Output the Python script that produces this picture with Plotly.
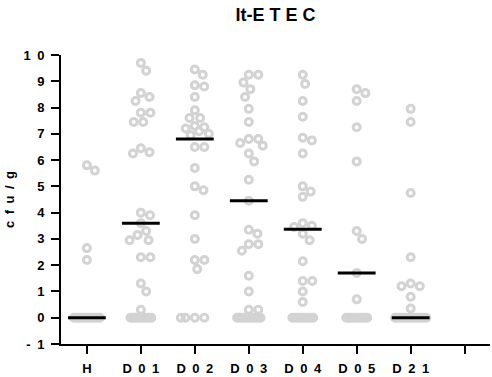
import math
import plotly.graph_objects as go

# ---------------- data ----------------
groups = ["H", "D01", "D02", "D03", "D04", "D05", "D21"]
tick_labels = ["H", "D\u20020\u20021", "D\u20020\u20022", "D\u20020\u20023",
               "D\u20020\u20024", "D\u20020\u20025", "D\u20022\u20021", ""]

H = [5.8, 5.6, 2.65, 2.2] + [0] * 11
D01 = [9.7, 9.4, 8.55, 8.4, 8.25, 7.8, 7.8, 7.45, 7.45, 6.45, 6.3, 6.25,
       4.0, 3.9, 3.6, 3.3, 3.15, 2.95, 2.95, 2.3, 2.3, 1.3, 1.0, 0.3] + [0] * 9
D02 = [9.45, 9.25, 8.85, 8.8, 8.4, 7.9, 7.6, 7.6, 7.3, 7.25, 7.2, 7.1,
       7.0, 6.95, 6.5, 6.5, 5.7, 5.0, 4.85, 3.9, 3.0, 2.2, 2.2, 1.85] + [0] * 4
D03 = [9.25, 9.25, 8.95, 8.7, 8.4, 7.95, 7.45, 6.8, 6.8, 6.65, 6.55, 6.25,
       5.95, 5.25, 4.45, 3.35, 3.2, 2.8, 2.8, 2.55, 1.6, 1.0, 0.3, 0.3] + [0] * 10
D04 = [9.25, 8.9, 8.25, 7.65, 6.85, 6.75, 6.25, 5.0, 4.8, 4.6, 3.6, 3.5,
       3.45, 3.2, 2.95, 2.15, 1.4, 1.4, 1.0, 0.6] + [0] * 9
D05 = [8.7, 8.55, 8.25, 7.25, 5.95, 3.3, 3.0, 1.7, 0.7] + [0] * 9
D21 = [7.95, 7.45, 4.75, 2.3, 1.3, 1.2, 1.2, 0.8, 0.35] + [0] * 13

series = [H, D01, D02, D03, D04, D05, D21]
medians = [0, 3.6, 6.8, 4.45, 3.37, 1.7, 0]

# ---------------- layout constants ----------------
W, Hpx = 492, 377
ML, MR, MT, MB = 61, 2, 55, 33
XR = [-0.48, 7.47]
YR = [-1, 10]
px_x = (W - ML - MR) / (XR[1] - XR[0])
px_y = (Hpx - MT - MB) / (YR[1] - YR[0])

FONT = "Liberation Sans, Arial, sans-serif"
GREY = "#d3d3d3"


def swarm(vals, d=9.5, step=2.6, max_half=14.0):
    """Beeswarm offsets (in x data units) for one column."""
    xs = [None] * len(vals)
    counts = {}
    for v in vals:
        counts[v] = counts.get(v, 0) + 1
    for v, n in counts.items():
        if n > 4:  # crowded ties overlap into a compressed row
            idx = [i for i, u in enumerate(vals) if u == v]
            for k, i in enumerate(idx):
                xs[i] = (k - (n - 1) / 2) * step
    placed = []
    order = sorted([i for i in range(len(vals)) if xs[i] is None],
                   key=lambda i: -vals[i])
    for i in order:
        y = vals[i] * px_y
        cands = [0.0]
        for (qx, qy) in placed:
            dy = abs(y - qy)
            if dy < d:
                dx = math.sqrt(d * d - dy * dy)
                cands += [qx - dx, qx + dx]
        valid = [c for c in cands if abs(c) <= max_half and
                 all((c - qx) ** 2 + (y - qy) ** 2 >= d * d - 1e-6
                     for (qx, qy) in placed)]
        if valid:
            best = min(valid, key=lambda c: (round(abs(c), 6), -c))
        else:  # column full: squeeze in where overlap is least
            grid = [max_half * (k / 10.0 - 1) for k in range(21)]

            def gap(c):
                return min(math.hypot(c - qx, y - qy) for (qx, qy) in placed)
            best = max(grid, key=lambda c: (round(gap(c), 3), -abs(c)))
        xs[i] = best
        placed.append((best, y))
    return [x / px_x for x in xs]


fig = go.Figure()

for gi, vals in enumerate(series):
    offs = swarm(vals)
    fig.add_trace(go.Scatter(
        x=[gi + o for o in offs], y=vals, mode="markers",
        marker=dict(symbol="circle-open", size=7, color=GREY,
                    line=dict(width=3, color=GREY)),
        showlegend=False, hoverinfo="skip"))

half = 18.9 / px_x
for gi, m in enumerate(medians):
    fig.add_trace(go.Scatter(
        x=[gi - half, gi + half], y=[m, m], mode="lines",
        line=dict(color="black", width=3), showlegend=False,
        hoverinfo="skip"))

ytick_vals = list(range(-1, 11))
ytick_text = ["-\u20021" if v == -1 else ("1\u20020" if v == 10 else str(v))
              for v in ytick_vals]

fig.update_layout(
    width=W, height=Hpx,
    margin=dict(l=ML, r=MR, t=MT, b=MB, autoexpand=False),
    paper_bgcolor="white", plot_bgcolor="white",
    font=dict(family=FONT, color="black", size=13, weight=700),
    title=dict(text="It-E T E C", x=0.5, xref="paper", xanchor="center",
               y=1 - 15 / Hpx, yref="container", yanchor="middle",
               font=dict(family=FONT, size=18, weight=700, color="black")),
    xaxis=dict(range=XR, tickmode="array", tickvals=list(range(8)),
               ticktext=tick_labels, showgrid=False, zeroline=False,
               showline=True, linecolor="black", linewidth=2,
               ticks="outside", ticklen=8, tickwidth=2, tickcolor="black",
               ticklabelstandoff=3, automargin=False,
               tickfont=dict(family=FONT, size=13, weight=700)),
    yaxis=dict(range=YR, tickmode="array", tickvals=ytick_vals,
               ticktext=ytick_text, showgrid=False, zeroline=False,
               showline=True, linecolor="black", linewidth=2,
               ticks="outside", ticklen=8, tickwidth=2, tickcolor="black",
               ticklabelstandoff=4, automargin=False,
               tickfont=dict(family=FONT, size=13, weight=700),
               title=dict(text="c\u2002f\u2002u\u2002/\u2002g", standoff=6,
                          font=dict(family=FONT, size=13, weight=700))),
)

fig.write_html("out.html")
